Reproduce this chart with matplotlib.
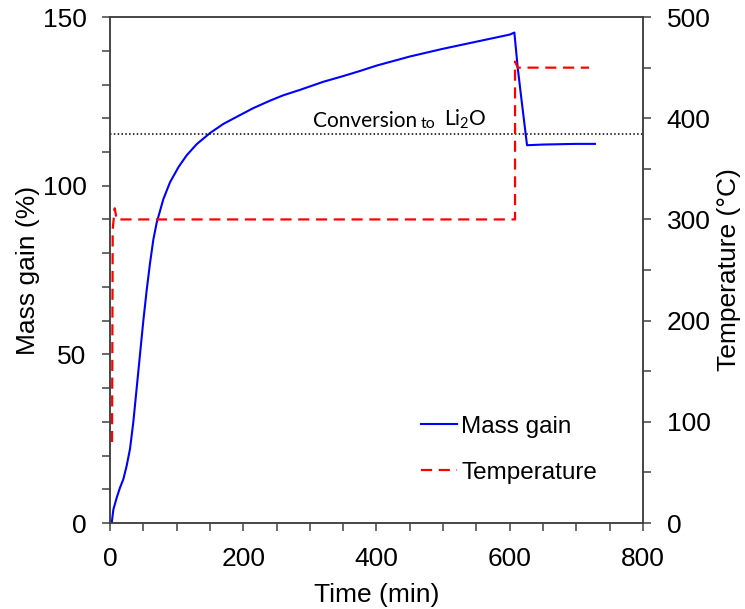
import numpy as np
import matplotlib.pyplot as plt
from matplotlib.ticker import MultipleLocator

plt.rcParams['font.family'] = ['Liberation Sans', 'DejaVu Sans']

# mass gain curve
t_mass = [2.5, 5, 10, 15, 20, 25, 30, 35, 40, 45, 50, 55, 60, 65, 70, 80, 90,
          103, 115, 130, 150, 170, 190, 215, 240, 260, 285, 320, 350, 375,
          400, 450, 500, 550, 600, 607, 612, 618, 626, 650, 700, 728]
mass = [0, 4, 7.5, 10.5, 13, 17, 22, 30, 40, 50, 60, 69, 77, 84, 89, 96, 101,
        105.6, 109, 112.3, 115.6, 118.3, 120.4, 123, 125.2, 126.8, 128.4,
        130.8, 132.5, 134, 135.6, 138.3, 140.6, 142.7, 144.8, 145.4, 135,
        125, 112, 112.2, 112.4, 112.4]

# furnace temperature
t_temp = [3, 4, 7, 10, 608, 608, 612, 719]
temp = [80, 290, 311, 300, 300, 456, 450, 450]

li2o_gain = 115.3  # full conversion Li -> Li2O

fig = plt.figure(figsize=(7.45, 6.09), dpi=100)
ax = fig.add_axes([0.1477, 0.1412, 0.7153, 0.8308])
ax2 = ax.twinx()

l1, = ax.plot(t_mass, mass, color='#0000ff', lw=1.5, label='Mass gain')
ax.axhline(li2o_gain, color='black', lw=1.1, ls=(0, (1, 1.5)))
l2, = ax2.plot(t_temp, temp, color='#ff0000', lw=1.6, ls=(0, (5, 3)),
               label='Temperature')

ax.set_xlim(0, 800)
ax.set_ylim(0, 150)
ax2.set_ylim(0, 500)

ax.xaxis.set_major_locator(MultipleLocator(200))
ax.xaxis.set_minor_locator(MultipleLocator(50))
ax.yaxis.set_major_locator(MultipleLocator(50))
ax.yaxis.set_minor_locator(MultipleLocator(10))
ax2.yaxis.set_major_locator(MultipleLocator(100))
ax2.yaxis.set_minor_locator(MultipleLocator(50))

for a in (ax, ax2):
    a.tick_params(which='both', direction='out', length=6, width=1.1,
                  color='#404040', labelsize=19, pad=11)
    for s in a.spines.values():
        s.set_color('#404040')
        s.set_linewidth(1.1)

ax.set_xlabel('Time (min)', fontsize=19, labelpad=9)
ax.set_ylabel('Mass gain (%)', fontsize=19, labelpad=2)
ax2.set_ylabel('Temperature (°C)', fontsize=19, labelpad=5)

# annotation with mixed sizes, each piece placed after the previous one
t1 = ax.text(304.8, 117.3, 'Conversion', fontsize=15, family='Lato')
t2 = ax.annotate('to', xy=(1, 0), xycoords=t1, xytext=(2.5, 0),
                 textcoords='offset points', fontsize=11.5, family='Lato',
                 va='bottom')
ax.annotate(r'$\mathregular{Li_2O}$', xy=(1, 0), xycoords=t2, xytext=(6, 0),
            textcoords='offset points', fontsize=15, family='Lato',
            va='bottom')

ax2.legend(handles=[l1, l2], loc='lower left', bbox_to_anchor=(0.543, 0.034),
           frameon=False, fontsize=17.5, handlelength=1.45,
           handletextpad=0.2, labelspacing=1.0)

fig.savefig('out.png', dpi=100)
